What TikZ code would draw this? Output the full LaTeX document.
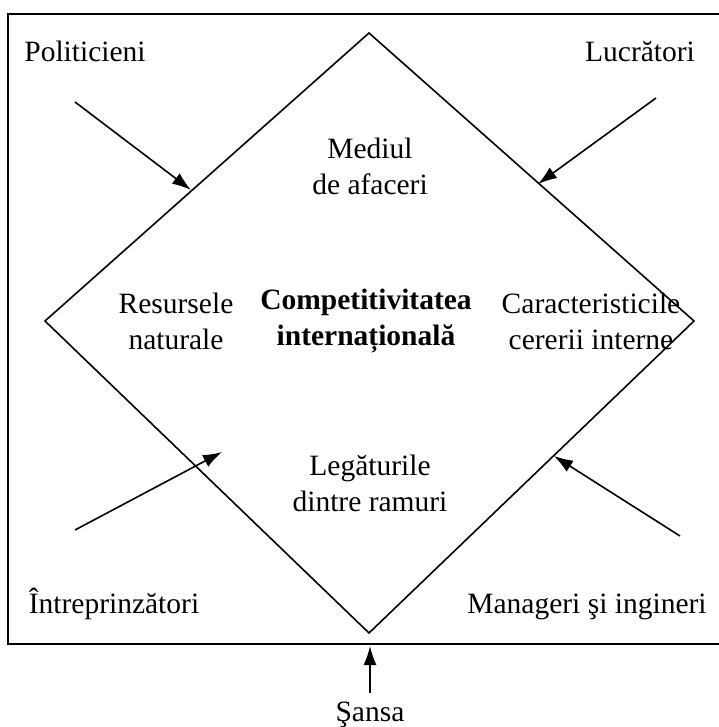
\documentclass[tikz,border=0pt]{standalone}
\usepackage{fontspec}
\setmainfont{Liberation Serif}
\usetikzlibrary{arrows.meta}
\begin{document}
\begin{tikzpicture}[x=1pt,y=-1pt,
  frameline/.style={line width=2pt},
  edge/.style={line width=1.6pt,line join=miter},
  force/.style={line width=1.6pt,-{Latex[length=19pt,width=13pt]}},
  lbl/.style={font=\fontsize{29.5}{36}\selectfont,align=center,inner sep=0pt},
  core/.style={lbl,font=\fontsize{29.5}{36}\selectfont\bfseries}]
\useasboundingbox (0,0) rectangle (718,727);
% outer frame, open on the right
\draw[frameline] (720,14) -- (8,14) -- (8,644) -- (720,644);
% the diamond
\coordinate (top) at (369,33);
\coordinate (lft) at (45,321);
\coordinate (rgt) at (694,321);
\coordinate (bot) at (369,633);
\draw[edge] (top) -- (rgt) -- (bot) -- (lft) -- cycle;
% texts inside the diamond
\node[lbl] (mediu) at (370,166) {Mediul\\de afaceri};
\node[lbl] (resurse) at (176,321) {Resursele\\naturale};
\node[core] (comp) at (366,321) {Competitivitatea\\internațională};
\node[lbl] (cerere) at (591,321) {Caracteristicile\\cererii interne};
\node[lbl] (legaturi) at (370,483) {Legăturile\\dintre ramuri};
% outside actors
\node[lbl,anchor=base] (pol) at (85,62) {Politicieni};
\node[lbl,anchor=base] (lucr) at (640,62) {Lucrători};
\node[lbl,anchor=base] (intr) at (114,613) {Întreprinzători};
\node[lbl,anchor=base] (mang) at (587,613) {Manageri şi ingineri};
\node[lbl,anchor=base] (sansa) at (370,721) {Şansa};
% arrow ends
\coordinate (polS) at (75,102);  \coordinate (polE) at (191,190);
\coordinate (lucS) at (656,98);  \coordinate (lucE) at (538,184);
\coordinate (intS) at (75,530);  \coordinate (intE) at (222,452);
\coordinate (manS) at (680,536); \coordinate (manE) at (554,456);
\coordinate (sanS) at (370,693); \coordinate (sanE) at (370,646);
\draw[force] (polS) -- (polE);
\draw[force] (lucS) -- (lucE);
\draw[force] (intS) -- (intE);
\draw[force] (manS) -- (manE);
\draw[force] (sanS) -- (sanE);
\end{tikzpicture}
\end{document}
